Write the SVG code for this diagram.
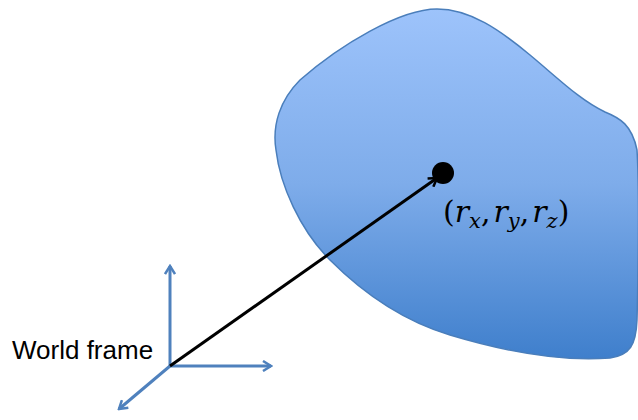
<svg xmlns="http://www.w3.org/2000/svg" width="638" height="420" viewBox="0 0 638 420">
<style>
.axis{stroke:#4F81BD;stroke-width:3;fill:none}
.vec{stroke:#000;stroke-width:3;fill:none}
.lbl{font-family:"Liberation Sans",Arial,sans-serif;font-size:26px;fill:#000}
.math{font-family:"DejaVu Serif","Liberation Serif",serif;font-size:30px;fill:#000}
.it{font-style:italic}
.sub{font-style:italic;font-size:21px}
</style>
<defs>
<linearGradient id="g" x1="0" y1="0" x2="0" y2="1">
<stop offset="0" stop-color="#9DC3FB"/>
<stop offset="0.5" stop-color="#7EACEA"/>
<stop offset="1" stop-color="#3F7FCC"/>
</linearGradient>
<marker id="ab" viewBox="0 0 12 12" refX="10" refY="6" markerWidth="12" markerHeight="12" markerUnits="userSpaceOnUse" orient="auto">
<path d="M2,1 L10,6 L2,11" fill="none" stroke="#4F81BD" stroke-width="2.5"/>
</marker>
<marker id="ak" viewBox="0 0 12 12" refX="10" refY="6" markerWidth="12" markerHeight="12" markerUnits="userSpaceOnUse" orient="auto">
<path d="M2,1 L10,6 L2,11" fill="none" stroke="#000" stroke-width="2.5"/>
</marker>
</defs>
<g id="body">
<path d="M437,9 C400,9 340,45 300,80 C280,100 272,125 276,150 C280,185 300,230 330,260 C360,290 400,320 450,335 C500,350 560,362 610,358 C630,355 636,345 637,320 C638,280 640,200 637,150 C632,125 620,118 605,112 C580,100 560,80 530,55 C500,30 470,9 437,9 Z" fill="url(#g)" stroke="#4A7EBB" stroke-width="1.5"/>
</g>
<g id="point">
<circle cx="443" cy="173" r="11" fill="#000"/>
<text class="math" x="443" y="222">(<tspan class="it">r</tspan><tspan class="sub" dy="6">x</tspan><tspan dy="-6">,</tspan><tspan class="it" dx="3">r</tspan><tspan class="sub" dy="6">y</tspan><tspan dy="-6">,</tspan><tspan class="it" dx="3">r</tspan><tspan class="sub" dy="6">z</tspan><tspan dy="-6">)</tspan></text>
</g>
<g id="frame">
<text class="lbl" x="12" y="359">World frame</text>
</g>
<g id="connectors">
<line class="axis" x1="170" y1="366" x2="170" y2="266" marker-end="url(#ab)"/>
<line class="axis" x1="170" y1="366" x2="271" y2="366" marker-end="url(#ab)"/>
<line class="axis" x1="170" y1="366" x2="119" y2="409" marker-end="url(#ab)"/>
<line class="vec" x1="170" y1="366" x2="437" y2="178" marker-end="url(#ak)"/>
</g>
</svg>
